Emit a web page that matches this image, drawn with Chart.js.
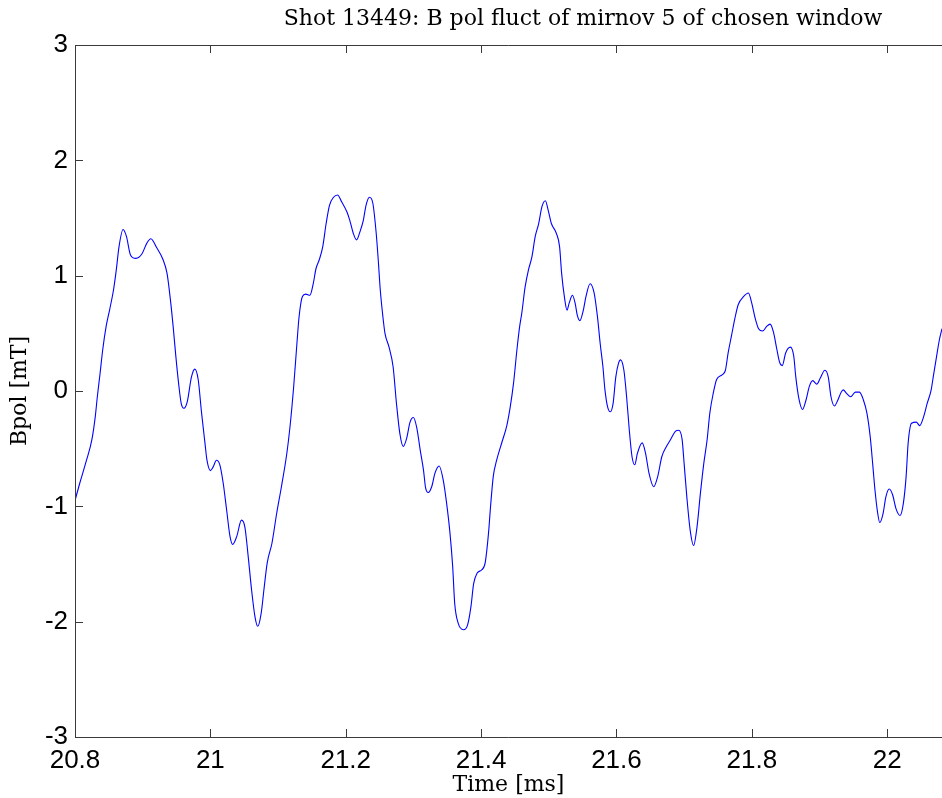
<!DOCTYPE html>
<html>
<head>
<meta charset="utf-8">
<script src="https://cdn.jsdelivr.net/npm/chart.js@4/dist/chart.umd.min.js"></script>
<style>
  html, body { margin: 0; padding: 0; background: #fff; }
  #fluct { display: block; }
</style>
</head>
<body>
<canvas id="fluct" width="942" height="798"></canvas>
<script>
const titleText = 'Shot 13449: B pol fluct of mirnov 5 of chosen window';
const xLabel = 'Time [ms]';
const yLabel = 'Bpol [mT]';

// time samples [ms]
const timeMs = [
  20.800, 20.807, 20.817, 20.825, 20.830, 20.833, 20.837, 20.841, 20.846, 20.851,
  20.857, 20.861, 20.865, 20.871, 20.876, 20.882, 20.890, 20.899, 20.906, 20.912,
  20.921, 20.930, 20.936, 20.941, 20.945, 20.949, 20.953, 20.957, 20.961, 20.966,
  20.972, 20.977, 20.982, 20.987, 20.992, 20.995, 21.000, 21.004, 21.009, 21.014,
  21.019, 21.024, 21.029, 21.033, 21.039, 21.046, 21.051, 21.056, 21.061, 21.066,
  21.070, 21.075, 21.079, 21.084, 21.091, 21.098, 21.105, 21.113, 21.118, 21.123,
  21.128, 21.131, 21.136, 21.141, 21.147, 21.152, 21.156, 21.161, 21.166, 21.171,
  21.176, 21.182, 21.188, 21.194, 21.202, 21.206, 21.211, 21.216, 21.221, 21.226,
  21.230, 21.235, 21.240, 21.245, 21.248, 21.251, 21.255, 21.258, 21.264, 21.270,
  21.275, 21.280, 21.285, 21.290, 21.295, 21.300, 21.305, 21.310, 21.315, 21.318,
  21.322, 21.327, 21.332, 21.338, 21.344, 21.349, 21.354, 21.358, 21.361, 21.366,
  21.374, 21.380, 21.385, 21.389, 21.394, 21.401, 21.406, 21.411, 21.414, 21.418,
  21.423, 21.431, 21.438, 21.443, 21.448, 21.453, 21.457, 21.460, 21.465, 21.470,
  21.475, 21.480, 21.485, 21.490, 21.495, 21.499, 21.504, 21.511, 21.516, 21.519,
  21.523, 21.527, 21.530, 21.535, 21.539, 21.542, 21.546, 21.551, 21.555, 21.561,
  21.567, 21.572, 21.576, 21.580, 21.583, 21.587, 21.591, 21.595, 21.599, 21.603,
  21.606, 21.611, 21.615, 21.619, 21.623, 21.627, 21.631, 21.638, 21.643, 21.648,
  21.655, 21.661, 21.667, 21.674, 21.680, 21.687, 21.692, 21.697, 21.700, 21.704,
  21.709, 21.714, 21.719, 21.724, 21.729, 21.734, 21.738, 21.743, 21.748, 21.756,
  21.761, 21.765, 21.770, 21.775, 21.780, 21.788, 21.795, 21.800, 21.805, 21.810,
  21.816, 21.822, 21.827, 21.832, 21.837, 21.841, 21.845, 21.850, 21.857, 21.862,
  21.865, 21.870, 21.875, 21.880, 21.885, 21.890, 21.896, 21.901, 21.908, 21.913,
  21.917, 21.922, 21.927, 21.932, 21.935, 21.940, 21.946, 21.953, 21.959, 21.965,
  21.970, 21.975, 21.979, 21.982, 21.986, 21.989, 21.994, 21.998, 22.003, 22.008,
  22.013, 22.019, 22.024, 22.028, 22.031, 22.036, 22.043, 22.048, 22.054, 22.059,
  22.065, 22.068, 22.073, 22.077, 22.081
];

// poloidal field fluctuation [mT]
const bpol = [
  -0.95, -0.80, -0.60, -0.42, -0.22, -0.05, 0.15, 0.36, 0.56, 0.70,
  0.88, 1.05, 1.25, 1.40, 1.34, 1.18, 1.15, 1.19, 1.28, 1.32,
  1.24, 1.14, 1.02, 0.79, 0.56, 0.30, 0.07, -0.11, -0.15, -0.09,
  0.12, 0.19, 0.10, -0.19, -0.45, -0.60, -0.69, -0.66, -0.60, -0.64,
  -0.80, -1.03, -1.26, -1.33, -1.26, -1.12, -1.18, -1.44, -1.73, -1.96,
  -2.04, -1.93, -1.73, -1.49, -1.32, -1.06, -0.83, -0.54, -0.29, 0.03,
  0.42, 0.64, 0.82, 0.84, 0.83, 0.93, 1.06, 1.14, 1.25, 1.45,
  1.61, 1.68, 1.70, 1.64, 1.55, 1.48, 1.37, 1.31, 1.38, 1.48,
  1.61, 1.68, 1.63, 1.37, 1.14, 0.88, 0.64, 0.50, 0.38, 0.21,
  -0.11, -0.37, -0.48, -0.41, -0.27, -0.23, -0.32, -0.51, -0.69, -0.84,
  -0.88, -0.83, -0.71, -0.65, -0.77, -0.97, -1.23, -1.52, -1.84, -2.01,
  -2.07, -2.03, -1.87, -1.67, -1.58, -1.55, -1.49, -1.23, -1.00, -0.74,
  -0.60, -0.44, -0.30, -0.14, 0.07, 0.36, 0.56, 0.67, 0.90, 1.05,
  1.16, 1.34, 1.45, 1.60, 1.65, 1.57, 1.45, 1.37, 1.25, 1.02,
  0.82, 0.70, 0.76, 0.83, 0.76, 0.66, 0.61, 0.70, 0.82, 0.93,
  0.85, 0.64, 0.41, 0.21, 0.01, -0.14, -0.18, -0.11, 0.12, 0.24,
  0.27, 0.18, -0.05, -0.34, -0.57, -0.64, -0.54, -0.45, -0.54, -0.71,
  -0.83, -0.74, -0.57, -0.48, -0.42, -0.35, -0.34, -0.42, -0.63, -0.92,
  -1.21, -1.34, -1.18, -0.89, -0.63, -0.42, -0.19, -0.02, 0.10, 0.14,
  0.18, 0.33, 0.48, 0.63, 0.75, 0.82, 0.85, 0.76, 0.63, 0.54,
  0.52, 0.56, 0.58, 0.51, 0.36, 0.25, 0.22, 0.33, 0.38, 0.30,
  0.12, -0.08, -0.16, -0.08, 0.04, 0.09, 0.06, 0.11, 0.18, 0.12,
  -0.05, -0.13, -0.08, -0.01, 0.01, -0.02, -0.05, -0.01, -0.01, -0.08,
  -0.19, -0.40, -0.66, -0.86, -1.06, -1.14, -1.06, -0.92, -0.85, -0.90,
  -1.02, -1.08, -0.97, -0.74, -0.45, -0.28, -0.27, -0.30, -0.22, -0.11,
  0.01, 0.12, 0.30, 0.44, 0.54
];

const xRange = [20.8, 22.081];
const yRange = [-3, 3];

const tickFont = { family: '"Liberation Sans", Arial, sans-serif', size: 26 };
const labelFont = { family: '"DejaVu Serif", serif', size: 22 };
const TICK = 8;
const axisColor = '#3a3a3a';

// box around the axes with inward ticks, and the title above
const matlabAxes = {
  id: 'matlabAxes',
  afterDraw(chart) {
    const { ctx, chartArea: a, scales: { x, y } } = chart;
    ctx.save();
    ctx.strokeStyle = axisColor;
    ctx.lineWidth = 1;
    ctx.beginPath();
    ctx.moveTo(a.right, a.top + 0.5);
    ctx.lineTo(a.left + 0.5, a.top + 0.5);
    ctx.lineTo(a.left + 0.5, a.bottom + 0.5);
    ctx.lineTo(a.right, a.bottom + 0.5);
    x.ticks.forEach(t => {
      const px = Math.round(x.getPixelForValue(t.value)) + 0.5;
      ctx.moveTo(px, a.bottom);
      ctx.lineTo(px, a.bottom - TICK);
      ctx.moveTo(px, a.top);
      ctx.lineTo(px, a.top + TICK);
    });
    y.ticks.forEach(t => {
      const py = Math.round(y.getPixelForValue(t.value)) + 0.5;
      ctx.moveTo(a.left, py);
      ctx.lineTo(a.left + TICK, py);
    });
    ctx.stroke();

    ctx.fillStyle = '#000';
    ctx.font = `${labelFont.size}px ${labelFont.family}`;
    ctx.textAlign = 'center';
    ctx.textBaseline = 'alphabetic';
    ctx.fillText(titleText, 583, 25);
    ctx.restore();
  }
};

const points = timeMs.map((t, i) => ({ x: t, y: bpol[i] }));

new Chart(document.getElementById('fluct'), {
  type: 'line',
  data: {
    datasets: [{
      data: points,
      borderColor: 'rgb(0, 0, 255)',
      borderWidth: 1.1,
      pointRadius: 0,
      fill: false,
      cubicInterpolationMode: 'monotone'
    }]
  },
  options: {
    responsive: false,
    animation: false,
    events: [],
    layout: { padding: { top: 45, right: 0, left: 0, bottom: 0 } },
    plugins: {
      legend: { display: false },
      title: { display: false },
      tooltip: { enabled: false }
    },
    scales: {
      x: {
        type: 'linear',
        min: xRange[0],
        max: xRange[1],
        grid: { display: false, drawTicks: false },
        border: { display: false },
        ticks: {
          stepSize: 0.2,
          includeBounds: false,
          autoSkip: false,
          maxRotation: 0,
          padding: 8,
          color: '#000',
          font: tickFont,
          callback: v => String(Number(v.toFixed(1)))
        },
        title: {
          display: true,
          text: xLabel,
          color: '#000',
          font: labelFont,
          padding: { top: 0, bottom: 0 }
        },
        afterFit: s => { s.height = 61; }
      },
      y: {
        min: yRange[0],
        max: yRange[1],
        grid: { display: false, drawTicks: false },
        border: { display: false },
        ticks: {
          stepSize: 1,
          padding: 7,
          color: '#000',
          font: tickFont,
          callback: v => String(v)
        },
        title: {
          display: true,
          text: yLabel,
          color: '#000',
          font: labelFont,
          padding: { top: 7, bottom: 0 }
        },
        afterFit: s => { s.width = 75; }
      }
    }
  },
  plugins: [matlabAxes]
});
</script>
</body>
</html>
